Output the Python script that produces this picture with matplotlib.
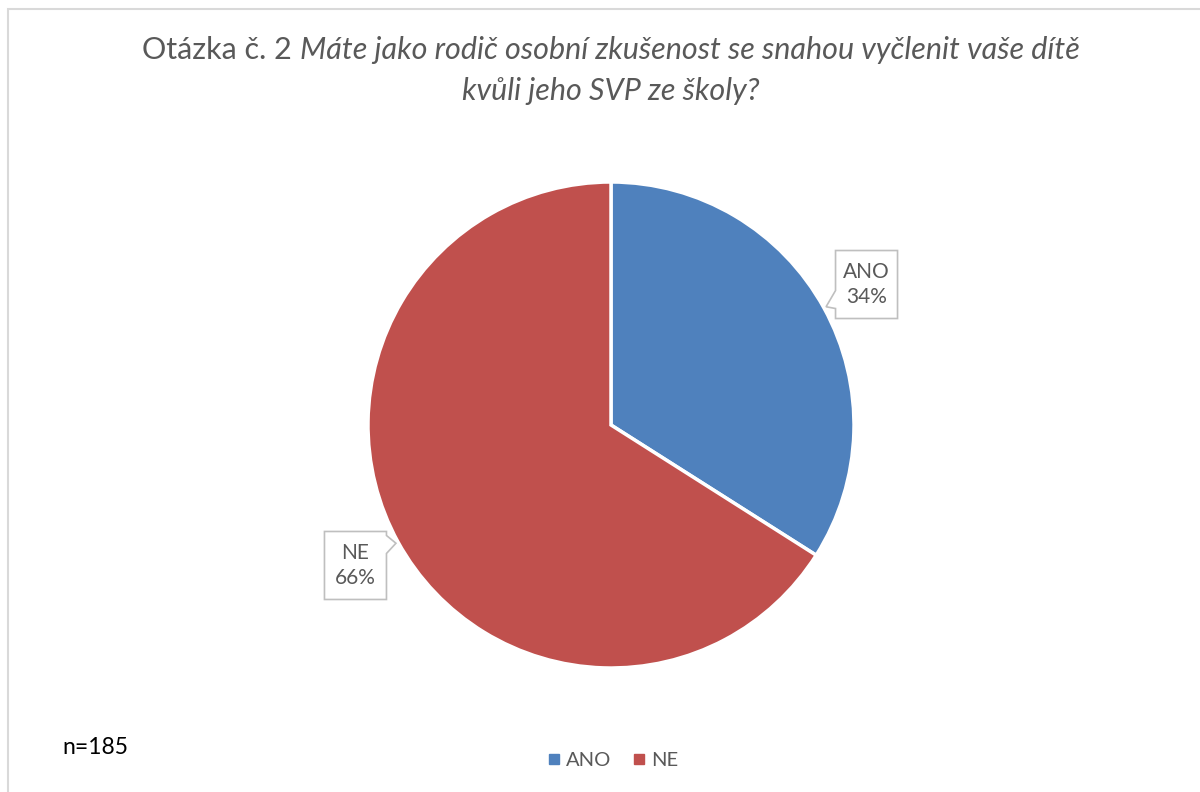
import matplotlib.pyplot as plt
import numpy as np
from matplotlib.patches import Polygon, Rectangle
from matplotlib.lines import Line2D

labels = ['ANO', 'NE']
shares = [34, 66]
colors = ['#4f81bd', '#c0504d']
title_plain = 'Otázka č. 2 '
title_italic_1 = 'Máte jako rodič osobní zkušenost se snahou vyčlenit vaše dítě'
title_italic_2 = 'kvůli jeho SVP ze školy?'
note = 'n=185'

plt.rcParams['font.family'] = ['Lato', 'DejaVu Sans']
gray = '#595959'

fig = plt.figure(figsize=(12, 7.92), dpi=100)
W, H = 1200, 792
cx, cy, R = 611, 425, 243  # pie centre / radius in pixels

ax = fig.add_axes([(cx - R) / W, (H - cy - R) / H, 2 * R / W, 2 * R / H])
wedges, _ = ax.pie(shares, colors=colors, startangle=90, counterclock=False,
                   wedgeprops=dict(edgecolor='white', linewidth=2.5))
ax.set_xlim(-1, 1)
ax.set_ylim(-1, 1)
ax.set_aspect('equal')
ax.axis('off')

# callout labels
px = 1.0 / R
hw, hh = 31 * px, 34 * px
for w, lab, val in zip(wedges, labels, shares):
    mid = np.deg2rad((w.theta1 + w.theta2) / 2)
    bx, by = 1.2 * np.cos(mid), 1.2 * np.sin(mid)
    tx, ty = 1.01 * np.cos(mid), 1.01 * np.sin(mid)
    if tx < bx:
        # pointer on the left edge, lower part
        pts = [(bx - hw, by + hh), (bx + hw, by + hh), (bx + hw, by - hh),
               (bx - hw, by - hh), (bx - hw, by - 24 * px), (tx, ty),
               (bx - hw, by - 6 * px)]
    else:
        # pointer on the right edge, upper part
        pts = [(bx - hw, by + hh), (bx + hw, by + hh), (bx + hw, by + 30 * px),
               (tx, ty), (bx + hw, by + 12 * px), (bx + hw, by - hh),
               (bx - hw, by - hh)]
    ax.add_patch(Polygon(pts, closed=True, facecolor='white', edgecolor='#bfbfbf',
                         linewidth=1.2, clip_on=False, zorder=5))
    ax.text(bx, by, f'{lab}\n{val}%', ha='center', va='center', fontsize=15,
            color=gray, linespacing=1.3, zorder=6)

# title with plain + italic parts, centred on the pie
fig.canvas.draw()
r = fig.canvas.get_renderer()
fs = 22
t1 = fig.text(0, 0, title_plain, fontsize=fs, color=gray)
t2 = fig.text(0, 0, title_italic_1, fontsize=fs, color=gray, style='italic')
w1 = t1.get_window_extent(r).width
w2 = t2.get_window_extent(r).width
x0 = cx - (w1 + w2) / 2
y1 = 1 - 50 / H
t1.set_position((x0 / W, y1))
t1.set_va('center')
t2.set_position(((x0 + w1) / W, y1))
t2.set_va('center')
fig.text(cx / W, 1 - 91 / H, title_italic_2, fontsize=fs, color=gray,
         style='italic', ha='center', va='center')

fig.text(62 / W, 1 - 748 / H, note, fontsize=16.5, color='black', va='center')

handles = [Line2D([], [], marker='s', linestyle='none', markersize=7,
                  markerfacecolor=c, markeredgecolor=c) for c in colors]
fig.legend(handles, labels, loc='center', bbox_to_anchor=(cx / W, 1 - 760 / H),
           ncol=2, frameon=False, fontsize=14.5, labelcolor=gray,
           handletextpad=0.1, columnspacing=0.9, handlelength=1.0)

# chart area border (partially cropped in original)
fig.add_artist(Rectangle((8 / W, -0.1), 1.2, 1 - 9 / H + 0.1, transform=fig.transFigure,
                         fill=False, edgecolor='#d9d9d9', linewidth=1.5))

fig.savefig('out.png', dpi=100)
